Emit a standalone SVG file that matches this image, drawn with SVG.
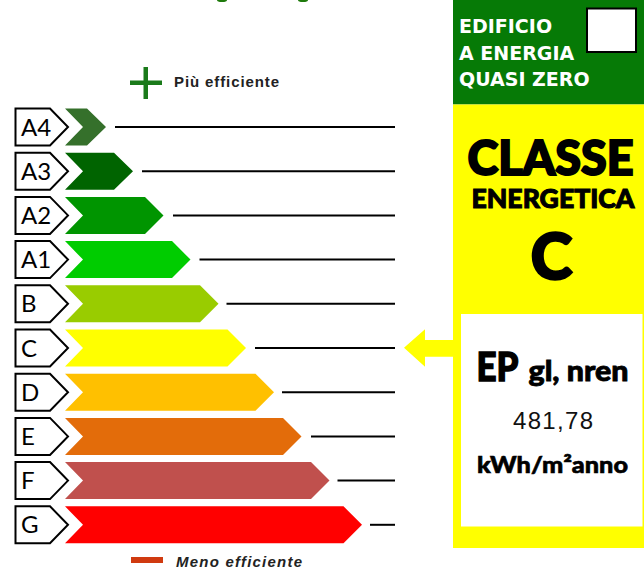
<svg xmlns="http://www.w3.org/2000/svg" width="644" height="570" viewBox="0 0 644 570">
<style>
.lbl{fill:#fff;stroke:#000;stroke-width:2;stroke-linejoin:miter}
.lt{font-family:Lato,"Liberation Sans",Arial,sans-serif;font-size:24px;fill:#000}
.ln{stroke:#000;stroke-width:2}
.hd{font-family:"DejaVu Sans",Verdana,sans-serif;font-weight:bold;font-size:19px;fill:#fff}
.lato{font-family:Lato,"Liberation Sans",sans-serif;font-weight:900;fill:#000;text-anchor:middle;stroke:#000}
.leg{font-family:"Liberation Sans",Arial,sans-serif;font-weight:bold;font-size:15px;fill:#222}
</style>
<rect width="644" height="570" fill="#fff"/>
<ellipse cx="222" cy="0" rx="5" ry="2" fill="#1f7a0c"/>
<ellipse cx="303" cy="0" rx="5" ry="2" fill="#1f7a0c"/>

<g id="legend-top">
<rect x="130" y="80.5" width="32" height="4.5" fill="#1a7a1a"/>
<rect x="143.5" y="67" width="4.5" height="32" fill="#1a7a1a"/>
<text class="leg" x="174" y="87" textLength="105">Più efficiente</text>
</g>
<g id="legend-bottom">
<rect x="131" y="557" width="32" height="6" fill="#d03a10"/>
<text class="leg" x="176" y="567" textLength="126" font-style="italic">Meno efficiente</text>
</g>

<g id="row-A4">
<polygon class="lbl" points="15.5,108.5 50,108.5 68,127 50,145.5 15.5,145.5"/>
<text class="lt" x="21" y="135.5">A4</text>
<polygon points="65,108.5 87,108.5 106,127 87,145.5 65,145.5 83,127" fill="#35702b"/>
</g>
<g id="row-A3">
<polygon class="lbl" points="15.5,152.7 50,152.7 68,171.2 50,189.7 15.5,189.7"/>
<text class="lt" x="21" y="179.7">A3</text>
<polygon points="65,152.7 114,152.7 133,171.2 114,189.7 65,189.7 83,171.2" fill="#006400"/>
</g>
<g id="row-A2">
<polygon class="lbl" points="15.5,196.9 50,196.9 68,215.4 50,233.9 15.5,233.9"/>
<text class="lt" x="21" y="223.9">A2</text>
<polygon points="65,196.9 145,196.9 163.5,215.4 145,233.9 65,233.9 83,215.4" fill="#009500"/>
</g>
<g id="row-A1">
<polygon class="lbl" points="15.5,241.1 50,241.1 68,259.6 50,278.1 15.5,278.1"/>
<text class="lt" x="21" y="268.1">A1</text>
<polygon points="65,241.1 172,241.1 190.5,259.6 172,278.1 65,278.1 83,259.6" fill="#00cc00"/>
</g>
<g id="row-B">
<polygon class="lbl" points="15.5,285.3 50,285.3 68,303.8 50,322.3 15.5,322.3"/>
<text class="lt" x="21" y="312.3">B</text>
<polygon points="65,285.3 200,285.3 218.5,303.8 200,322.3 65,322.3 83,303.8" fill="#99cc00"/>
</g>
<g id="row-C">
<polygon class="lbl" points="15.5,329.5 50,329.5 68,348 50,366.5 15.5,366.5"/>
<text class="lt" x="21" y="356.5">C</text>
<polygon points="65,329.5 227.5,329.5 246,348 227.5,366.5 65,366.5 83,348" fill="#ffff00"/>
</g>
<g id="row-D">
<polygon class="lbl" points="15.5,373.7 50,373.7 68,392.2 50,410.7 15.5,410.7"/>
<text class="lt" x="21" y="400.7">D</text>
<polygon points="65,373.7 255.5,373.7 274,392.2 255.5,410.7 65,410.7 83,392.2" fill="#ffc000"/>
</g>
<g id="row-E">
<polygon class="lbl" points="15.5,417.9 50,417.9 68,436.4 50,454.9 15.5,454.9"/>
<text class="lt" x="21" y="444.9">E</text>
<polygon points="65,417.9 283,417.9 301.5,436.4 283,454.9 65,454.9 83,436.4" fill="#e36c0a"/>
</g>
<g id="row-F">
<polygon class="lbl" points="15.5,462.1 50,462.1 68,480.6 50,499.1 15.5,499.1"/>
<text class="lt" x="21" y="489.1">F</text>
<polygon points="65,462.1 311,462.1 329.5,480.6 311,499.1 65,499.1 83,480.6" fill="#c0504d"/>
</g>
<g id="row-G">
<polygon class="lbl" points="15.5,506.3 50,506.3 68,524.8 50,543.3 15.5,543.3"/>
<text class="lt" x="21" y="533.3">G</text>
<polygon points="65,506.3 343.5,506.3 362,524.8 343.5,543.3 65,543.3 83,524.8" fill="#ff0000"/>
</g>

<g id="connectors">
<line class="ln" x1="115" y1="127" x2="395" y2="127"/>
<line class="ln" x1="142" y1="171.2" x2="395" y2="171.2"/>
<line class="ln" x1="173" y1="215.4" x2="395" y2="215.4"/>
<line class="ln" x1="199.5" y1="259.6" x2="395" y2="259.6"/>
<line class="ln" x1="226.5" y1="303.8" x2="395" y2="303.8"/>
<line class="ln" x1="255" y1="348" x2="395" y2="348"/>
<line class="ln" x1="282" y1="392.2" x2="395" y2="392.2"/>
<line class="ln" x1="311" y1="436.4" x2="395" y2="436.4"/>
<line class="ln" x1="337.5" y1="480.6" x2="395" y2="480.6"/>
<line class="ln" x1="370" y1="524.8" x2="395" y2="524.8"/>
</g>

<g id="nzeb-box">
<rect x="453" y="0" width="191" height="104.5" fill="#067a06"/>
<rect x="587" y="8.5" width="49" height="43.5" fill="#fff" stroke="#000" stroke-width="2"/>
<text class="hd" x="459" y="32.5">EDIFICIO</text>
<text class="hd" x="459" y="59.5">A ENERGIA</text>
<text class="hd" x="459" y="86">QUASI ZERO</text>
</g>

<g id="class-box">
<rect x="453" y="104.5" width="191" height="443.5" fill="#ffff00"/>
<text class="lato" x="550.5" y="175" font-size="47" stroke-width="2" textLength="166" lengthAdjust="spacingAndGlyphs">CLASSE</text>
<text class="lato" x="553" y="208" font-size="26" stroke-width="1" textLength="163" lengthAdjust="spacingAndGlyphs">ENERGETICA</text>
<text class="lato" x="551.5" y="279" font-size="63" stroke-width="2.4">C</text>
<polygon points="404,347.7 425,329.3 425,340 461,340 461,356.7 425,356.7 425,366.7" fill="#ffff00"/>
</g>

<g id="ep-box">
<rect x="461" y="314" width="181.5" height="212.5" fill="#fff"/>
<text class="lato" x="497.5" y="381" font-size="40" stroke-width="1.4" textLength="42" lengthAdjust="spacingAndGlyphs">EP</text>
<text class="lato" x="578.5" y="381" font-size="28" stroke-width="0.8" textLength="100" lengthAdjust="spacingAndGlyphs">gl, nren</text>
<text x="553" y="428.5" font-family="Liberation Sans,Arial,sans-serif" font-size="24" fill="#111" text-anchor="middle" textLength="80">481,78</text>
<text class="lato" x="552.5" y="472.5" font-size="23" stroke-width="0.6" textLength="151" lengthAdjust="spacingAndGlyphs">kWh/m²anno</text>
</g>
</svg>
